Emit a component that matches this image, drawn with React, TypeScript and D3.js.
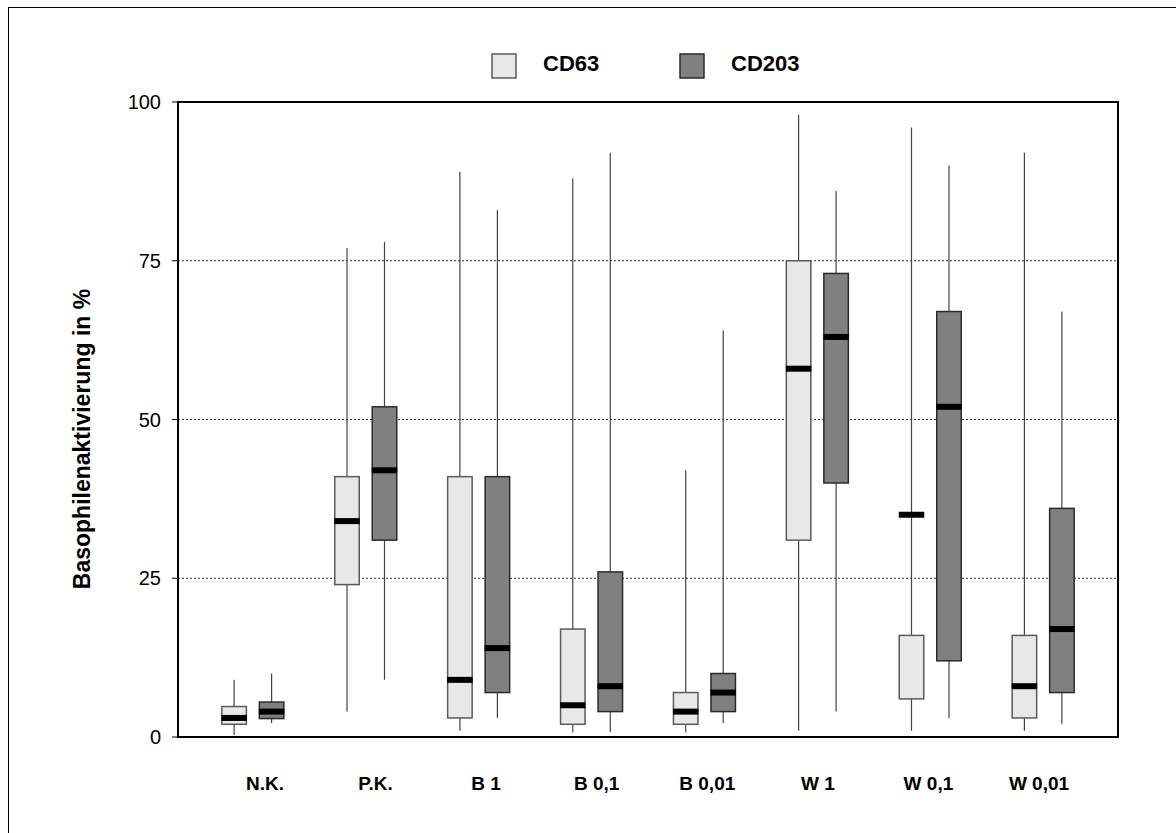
import React from "react";
import * as d3 from "d3";

const categories = ["N.K.", "P.K.", "B 1", "B 0,1", "B 0,01", "W 1", "W 0,1", "W 0,01"];
const seriesNames = ["CD63", "CD203"];
const yTicks = [0, 25, 50, 75, 100];
const gridValues = [25, 50, 75];

const cd63Min = [0.3, 4, 1, 0.7, 0.7, 1, 1, 1];
const cd63Q1 = [2, 24, 3, 2, 2, 31, 6, 3];
const cd63Median = [3, 34, 9, 5, 4, 58, 35, 8];
const cd63Q3 = [4.8, 41, 41, 17, 7, 75, 16, 16];
const cd63Max = [9, 77, 89, 88, 42, 98, 96, 92];

const cd203Min = [2.2, 9, 3, 0.8, 2.2, 4, 3, 2.1];
const cd203Q1 = [2.9, 31, 7, 4, 4, 40, 12, 7];
const cd203Median = [4, 42, 14, 8, 7, 63, 52, 17];
const cd203Q3 = [5.5, 52, 41, 26, 10, 73, 67, 36];
const cd203Max = [10, 78, 83, 92, 64, 86, 90, 67];

const fills: Record<string, string> = { CD63: "#e8e8e8", CD203: "#808080" };
const strokes: Record<string, string> = { CD63: "#5a5a5a", CD203: "#2a2a2a" };

const W = 1176;
const H = 833;
const plot = { left: 178, right: 1118, top: 102, bottom: 737 };
const FONT = "Arial, 'Liberation Sans', Helvetica, sans-serif";

export default function App() {
  const y = d3.scaleLinear().domain([0, 100]).range([plot.bottom, plot.top]);
  const x = d3.scaleBand<string>().domain(categories).range([plot.left, plot.right]).paddingInner(0).paddingOuter(0.163);
  const sub = d3.scalePoint<string>().domain(seriesNames).range([-18.75, 18.75]);
  const labelX = d3.scalePoint<string>().domain(categories).range([265, 1039]);
  const boxW = 24.5;

  const rows = seriesNames.flatMap((s) =>
    categories.map((c, i) => {
      const isA = s === "CD63";
      return {
        series: s,
        cat: c,
        min: isA ? cd63Min[i] : cd203Min[i],
        q1: isA ? cd63Q1[i] : cd203Q1[i],
        med: isA ? cd63Median[i] : cd203Median[i],
        q3: isA ? cd63Q3[i] : cd203Q3[i],
        max: isA ? cd63Max[i] : cd203Max[i],
      };
    })
  );

  return (
    <svg
      width={W}
      height={H}
      style={{ position: "absolute", left: 0, top: 0, display: "block", background: "#fff" }}
      fontFamily={FONT}
    >
      {/* outer border (right/bottom beyond image) */}
      <rect x={8.5} y={7.5} width={1200} height={900} fill="none" stroke="#000" strokeWidth={1} />

      {/* legend */}
      {seriesNames.map((s, i) => {
        const lx = [492, 680][i];
        return (
          <g key={s}>
            <rect x={lx} y={54} width={24} height={24} fill={fills[s]} stroke={strokes[s]} strokeWidth={1.5} />
            <text x={lx + 51} y={70.5} fontSize={22} fontWeight="bold" fill="#000">
              {s}
            </text>
          </g>
        );
      })}

      {/* grid */}
      {gridValues.map((v) => (
        <line
          key={v}
          x1={plot.left}
          x2={plot.right}
          y1={y(v)}
          y2={y(v)}
          stroke="#333"
          strokeWidth={1}
          strokeDasharray="2,2"
        />
      ))}

      {/* y ticks */}
      {yTicks.map((t) => (
        <g key={t}>
          <line x1={plot.left - 6} x2={plot.left} y1={y(t)} y2={y(t)} stroke="#000" strokeWidth={1} />
          <text x={161} y={y(t)} dy="0.35em" textAnchor="end" fontSize={20} fill="#000">
            {t}
          </text>
        </g>
      ))}

      {/* whiskers */}
      {rows.map((r) => {
        const cx = (x(r.cat) as number) + x.bandwidth() / 2 + (sub(r.series) as number);
        return (
          <line
            key={"w" + r.series + r.cat}
            x1={cx}
            x2={cx}
            y1={y(r.min)}
            y2={y(r.max)}
            stroke="#444"
            strokeWidth={1.2}
          />
        );
      })}

      {/* boxes */}
      {rows.map((r) => {
        const cx = (x(r.cat) as number) + x.bandwidth() / 2 + (sub(r.series) as number);
        return (
          <g key={"b" + r.series + r.cat}>
            <rect
              x={cx - boxW / 2}
              y={y(r.q3)}
              width={boxW}
              height={y(r.q1) - y(r.q3)}
              fill={fills[r.series]}
              stroke={strokes[r.series]}
              strokeWidth={1.5}
            />
            <rect x={cx - boxW / 2 - 0.5} y={y(r.med) - 3} width={boxW + 1} height={6} fill="#000" />
          </g>
        );
      })}

      {/* plot frame */}
      <rect
        x={plot.left}
        y={plot.top}
        width={plot.right - plot.left}
        height={plot.bottom - plot.top}
        fill="none"
        stroke="#000"
        strokeWidth={2}
      />

      {/* category labels */}
      {categories.map((c) => (
        <text key={c} x={labelX(c)} y={790} textAnchor="middle" fontSize={19} fontWeight="bold" fill="#000">
          {c}
        </text>
      ))}

      {/* y title */}
      <text
        transform={`translate(90, ${(278 + 600) / 2}) rotate(-90)`}
        textAnchor="middle"
        fontSize={23}
        fontWeight="bold"
        fill="#000"
      >
        Basophilenaktivierung in %
      </text>
    </svg>
  );
}
